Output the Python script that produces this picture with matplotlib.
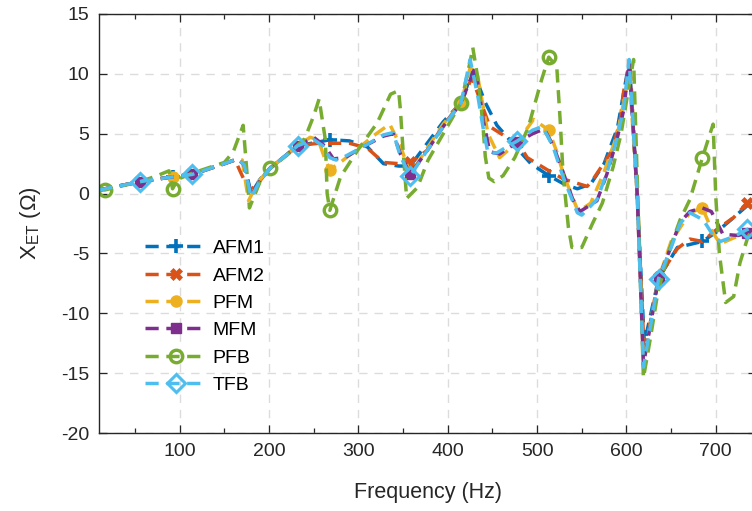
import numpy as np
import matplotlib
matplotlib.use('Agg')
import matplotlib.pyplot as plt

plt.rcParams['font.family'] = ['Liberation Sans', 'DejaVu Sans']
plt.rcParams['mathtext.fontset'] = 'custom'
plt.rcParams['mathtext.rm'] = 'Liberation Sans'
plt.rcParams['axes.unicode_minus'] = False

# Данные (частота, Гц / реактивное сопротивление, Ом)
afm1_f = [10, 56, 92, 114, 150, 165, 172, 180, 190, 201, 232, 255, 268, 290, 310, 328, 345, 358, 375,
          395, 415, 428, 442, 455, 475, 493, 513, 530, 545, 560, 575, 590, 603, 612, 620, 636, 657,
          685, 701, 720, 746]
afm1_x = [0.3, 1.0, 1.4, 1.6, 2.5, 2.9, 2.5, 0.0, 1.2, 2.1, 4.0, 4.3, 4.5, 4.4, 3.9, 2.5, 2.3, 2.3, 4.0,
          6.0, 7.6, 10.3, 7.6, 5.7, 4.0, 2.5, 1.5, 0.8, 0.4, 0.8, 2.5, 5.5, 11.0, 0.0, -12.5, -7.1, -4.5,
          -4.0, -3.2, -2.0, -0.3]

afm2_f = [10, 56, 92, 114, 150, 162, 168, 178, 188, 201, 232, 255, 268, 290, 310, 328, 345, 358, 377,
          395, 415, 427, 447, 466, 478, 489, 511, 530, 556, 561, 584, 593, 597, 604, 612, 620, 636,
          657, 671, 685, 701, 720, 735, 746]
afm2_x = [0.3, 1.0, 1.4, 1.6, 2.5, 2.8, 1.8, 0.2, 0.9, 2.1, 4.0, 4.2, 4.2, 4.2, 3.8, 2.6, 2.5, 2.6, 3.6,
          5.7, 7.6, 9.7, 5.6, 4.7, 4.3, 3.0, 2.0, 1.2, 0.6, 1.0, 3.6, 6.1, 8.6, 10.8, 0.0, -13.5, -7.0,
          -4.6, -3.8, -4.0, -3.0, -2.0, -0.8, -0.4]

pfm_f = [10, 56, 92, 114, 150, 165, 170, 177, 188, 201, 232, 246, 255, 262, 268, 278, 300, 320, 335,
         347, 358, 377, 395, 415, 425, 433, 445, 458, 478, 496, 513, 522, 530, 546, 560, 575, 590,
         603, 612, 619, 636, 650, 671, 685, 697, 705, 720, 746]
pfm_x = [0.3, 1.0, 1.4, 1.6, 2.5, 2.9, 2.8, -0.6, 1.0, 2.1, 4.0, 4.7, 4.5, 3.0, 2.0, 2.5, 3.8, 5.0, 5.8,
         4.0, 1.6, 3.8, 5.8, 7.6, 10.5, 10.0, 5.0, 3.0, 4.3, 6.2, 5.3, 3.5, 1.5, -1.5, -0.8, 1.8, 5.0,
         10.0, 0.0, -14.0, -7.1, -4.0, -1.6, -1.2, -3.3, -4.2, -3.7, -3.0]

mfm_f = [10, 56, 92, 114, 150, 165, 172, 180, 190, 201, 232, 250, 262, 272, 285, 305, 328, 339, 347,
         358, 377, 395, 415, 431, 440, 447, 458, 478, 495, 508, 518, 529, 540, 548, 567, 578, 589,
         597, 603, 612, 619, 636, 649, 660, 671, 685, 695, 708, 725, 735, 746]
mfm_x = [0.3, 1.0, 1.4, 1.6, 2.5, 2.9, 2.4, -0.2, 1.1, 2.1, 4.0, 4.7, 4.0, 2.9, 3.0, 3.9, 4.8, 5.0, 3.3,
         1.6, 3.6, 5.6, 7.6, 10.6, 6.0, 3.5, 3.3, 4.3, 5.0, 5.4, 4.0, 1.8, -0.5, -1.5, -0.6, 1.6, 4.4,
         7.0, 11.0, 0.0, -14.3, -7.1, -4.6, -2.4, -1.5, -1.2, -1.5, -3.4, -3.5, -3.3, -3.1]

pfb_f = [10, 16, 56, 75, 88, 92, 98, 114, 150, 160, 171, 175, 178, 190, 201, 220, 240, 250, 256, 263,
         265, 268, 280, 299, 321, 336, 345, 347, 350, 354, 366, 378, 395, 415, 425, 428, 434, 439,
         442, 446, 452, 462, 475, 490, 505, 513, 522, 526, 529, 535, 539, 550, 562, 573, 585, 594,
         602, 608, 619, 627, 635, 648, 660, 671, 685, 697, 700, 704, 711, 720, 727, 736, 746]
pfb_x = [0.3, 0.3, 1.0, 1.5, 1.9, 0.4, 1.2, 1.7, 2.6, 3.5, 5.7, 2.0, -1.2, 1.0, 2.1, 3.2, 4.6, 6.5, 7.9,
         4.5, 0.0, -1.4, 1.4, 3.6, 5.9, 8.3, 8.6, 7.0, 3.6, -0.4, 0.5, 2.8, 5.0, 7.6, 11.0, 12.2, 9.5,
         6.1, 3.1, 1.3, 1.0, 1.5, 3.0, 5.5, 9.5, 11.4, 10.6, 5.9, 1.7, -2.8, -4.5, -4.5, -2.5, -0.8,
         2.2, 5.0, 8.6, 11.2, -15.4, -12.0, -8.3, -4.7, -2.2, -0.5, 3.0, 5.8, -0.3, -5.0, -9.1, -8.6,
         -5.8, -3.6, -2.5]

tfb_f = [10, 56, 92, 114, 150, 165, 172, 180, 190, 201, 232, 250, 260, 268, 275, 285, 305, 328, 339,
         347, 358, 377, 395, 415, 425, 434, 440, 445, 455, 466, 478, 495, 506, 518, 529, 545, 550,
         567, 578, 589, 597, 603, 612, 619, 636, 649, 660, 671, 686, 697, 705, 720, 735, 746]
tfb_x = [0.3, 1.0, 1.4, 1.6, 2.5, 2.9, 2.4, -0.3, 1.1, 2.1, 4.0, 4.5, 4.0, 3.0, 2.8, 3.1, 3.9, 4.9, 5.1,
         3.1, 1.5, 3.6, 5.6, 7.6, 11.2, 8.0, 5.3, 3.4, 3.4, 3.9, 4.4, 5.3, 5.6, 3.9, 1.4, -1.6, -1.8,
         -0.5, 1.7, 4.5, 7.2, 11.2, 0.0, -14.5, -7.1, -4.7, -2.5, -1.6, -2.2, -3.5, -4.0, -3.6, -3.0,
         -2.7]

# Частоты, на которых стоят маркеры
afm1_mk = [92, 268, 513, 685]
afm2_mk = [56, 114, 232, 358, 478, 636, 735]
pfm_mk = [92, 268, 415, 513, 685]
mfm_mk = [56, 114, 232, 358, 478, 636, 735]
pfb_mk = [16, 92, 201, 268, 415, 513, 685]
tfb_mk = [56, 114, 232, 358, 478, 636, 735]

series = [
    ('AFM1', afm1_f, afm1_x, afm1_mk, '#0072BD', dict(marker='+', ms=10, mew=2.6)),
    ('AFM2', afm2_f, afm2_x, afm2_mk, '#D95319', dict(marker='X', ms=8.5, mew=0.5)),
    ('PFM', pfm_f, pfm_x, pfm_mk, '#EDB120', dict(marker='o', ms=8, mew=1)),
    ('MFM', mfm_f, mfm_x, mfm_mk, '#7E2F8E', dict(marker='s', ms=7.5, mew=1)),
    ('PFB', pfb_f, pfb_x, pfb_mk, '#77AC30', dict(marker='o', ms=9, mew=2.4, mfc='none')),
    ('TFB', tfb_f, tfb_x, tfb_mk, '#4DBEEE', dict(marker='D', ms=9.5, mew=2.2, mfc='none')),
]

fig = plt.figure(figsize=(7.52, 5.11), dpi=100)
ax = fig.add_axes([99.3 / 752, 1 - 433 / 511, (756 - 99.3) / 752, (433 - 14) / 511])

for name, f, x, mk, col, mstyle in series:
    f = np.array(f)
    idx = list(np.where(np.isin(f, mk))[0])
    ax.plot(f, x, color=col, lw=2.5, ls=(0, (3.8, 2.2)), label=name, markevery=idx,
            markeredgecolor=col, **mstyle)

ax.set_xlim(10, 745)
ax.set_ylim(-20, 15)
ax.set_xticks([100, 200, 300, 400, 500, 600, 700])
ax.set_xticks(np.arange(50, 745, 50), minor=True)
ax.set_yticks(np.arange(-20, 16, 5))

ax.grid(True, which='major', color='#dcdcdc', linestyle=(0, (6, 5)), linewidth=1.0)
ax.set_axisbelow(True)
ax.tick_params(which='both', direction='in', top=True, right=True, colors='#262626',
               labelsize=14, width=0.9, pad=7)
ax.tick_params(which='major', length=6)
ax.tick_params(which='minor', length=3.5)
for s in ax.spines.values():
    s.set_color('#262626')
    s.set_linewidth(1.0)

ax.set_xlabel('Frequency (Hz)', fontsize=15.5, color='#262626', labelpad=16)
ax.set_ylabel(r'X$_{\mathrm{ET}}$ ($\Omega$)', fontsize=16, color='#262626', labelpad=13)

ax.legend(loc='center left', bbox_to_anchor=(0.169, 0.38), bbox_transform=fig.transFigure,
          frameon=False, fontsize=14, handlelength=3.2, handletextpad=0.3, labelspacing=0.5)

plt.savefig('out.png', dpi=100)
